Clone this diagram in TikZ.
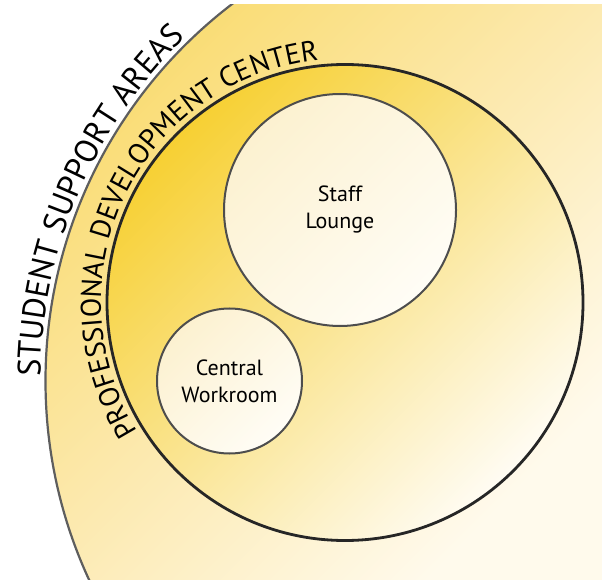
\documentclass[tikz,border=0pt]{standalone}
\usepackage{fontspec}
\setmainfont{PT Sans}
\usepackage{tikz}
\usetikzlibrary{decorations.text}

\definecolor{supportTop}{HTML}{F9DB6E}
\definecolor{supportMid}{HTML}{FCE9AE}
\definecolor{supportBottom}{HTML}{FFFAEC}
\definecolor{supportLine}{HTML}{5E5E5E}
\definecolor{pdcTop}{HTML}{F7D033}
\definecolor{pdcMid}{HTML}{FAE594}
\definecolor{pdcBottom}{HTML}{FFFCF3}
\definecolor{pdcLine}{HTML}{262626}
\definecolor{roomTop}{HTML}{FCF1D0}
\definecolor{roomBottom}{HTML}{FFFDF6}
\definecolor{roomLine}{HTML}{4D4D4D}

\newcommand{\supportfont}{\fontsize{32.5}{32.5}\selectfont}
\newcommand{\pdcfont}{\fontsize{28.5}{28.5}\selectfont}

\tikzset{
  room/.style={circle, draw=roomLine, line width=2pt, inner sep=0pt, align=center,
    font=\fontsize{22}{27}\selectfont, top color=roomTop, bottom color=roomBottom, shading angle=45},
  ringtext/.style={decorate, decoration={text along path, text align=left, text={#1}}}
}

\begin{document}
\begin{tikzpicture}[x=1pt, y=1pt]
    \useasboundingbox (0,0) rectangle (602,579);

    % Student support areas
    \coordinate (hub) at (519.5,198);
    \begin{scope}
      \clip (0,0) rectangle (602,574);
      \begin{scope}
        \clip (hub) circle[radius=474];
        \shade[top color=supportTop, bottom color=supportBottom, middle color=supportMid, shading angle=45]
          (0,0) rectangle (602,574);
      \end{scope}
      \draw[supportLine, line width=2.2pt] (hub) circle[radius=474];
    \end{scope}

    % Professional development center
    \node[circle, minimum size=476pt, inner sep=0pt, draw=pdcLine, line width=2.8pt,
      top color=pdcTop, bottom color=pdcBottom, middle color=pdcMid, shading angle=45] (pdc) at (345,276.5) {};

    % Rooms
    \node[room, minimum size=232pt] (lounge) at (340,369) {Staff\\Lounge};
    \node[room, minimum size=145pt] (workroom) at (229.5,198) {Central\\Workroom};

    % Curved labels
    \path[ringtext={|\supportfont|STUDENT SUPPORT AREAS}]
      ([shift={(179.5:479)}]hub) arc[start angle=179.5, end angle=110, radius=479];
    \path[ringtext={|\pdcfont|PROFESSIONAL DEVELOPMENT CENTER}]
      ([shift={(212:244)}]pdc.center) arc[start angle=212, end angle=70, radius=244];
\end{tikzpicture}
\end{document}
